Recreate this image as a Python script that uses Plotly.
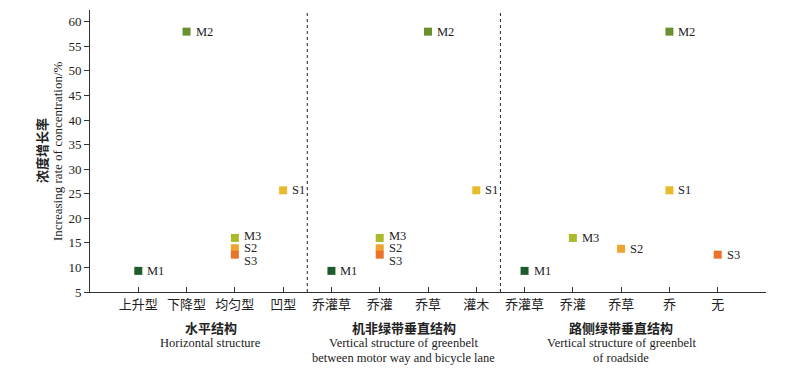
import plotly.graph_objects as go

# ---- data ----
tick_labels = ["上升型", "下降型", "均匀型", "凹型",
               "乔灌草", "乔灌", "乔草", "灌木",
               "乔灌草", "乔灌", "乔草", "乔", "无"]
tick_pos = list(range(1, 14))

series_names = ["M1", "M2", "M3", "S1", "S2", "S3"]
series_x = {
    "M1": [1, 5, 9],
    "M2": [2, 7, 12],
    "M3": [3, 6, 10],
    "S1": [4, 8, 12],
    "S2": [3, 6, 11],
    "S3": [3, 6, 13],
}
series_y = {
    "M1": [9.3, 9.3, 9.3],
    "M2": [58.0, 58.0, 58.0],
    "M3": [16.0, 16.0, 16.0],
    "S1": [25.7, 25.7, 25.7],
    "S2": [13.9, 13.9, 13.8],
    "S3": [12.6, 12.6, 12.6],
}
colors = {
    "M1": "#1d5a2c",
    "M2": "#6a8f30",
    "M3": "#abb92b",
    "S1": "#e8ba2c",
    "S2": "#eda431",
    "S3": "#e9732b",
}
# vertical offset (px) of labels (S3 label pushed down where it overlaps S2)
label_shift = {"S3": [-6, -6, 0], "M3": [2, 2, 0]}

group_titles = [
    (2.5, ["水平结构", "Horizontal structure"]),
    (6.5, ["机非绿带垂直结构", "Vertical structure of greenbelt",
           "between motor way and bicycle lane"]),
    (11, ["路侧绿带垂直结构", "Vertical structure of greenbelt", "of roadside"]),
]
dividers = [4.5, 8.5]
y_title_cn = "浓度增长率"
y_title_en = "Increasing rate of concentration/%"

FONT = "Liberation Serif, Times New Roman, Noto Sans CJK SC, serif"
FONT_CN = "Noto Sans CJK SC, Liberation Serif, serif"

fig = go.Figure()
annotations = []
for name in series_names:
    fig.add_trace(go.Scatter(
        x=series_x[name], y=series_y[name], mode="markers",
        marker=dict(symbol="square", size=8, color=colors[name]),
        name=name, showlegend=False, hoverinfo="x+y"))
    shifts = label_shift.get(name, [0, 0, 0])
    for xv, yv, s in zip(series_x[name], series_y[name], shifts):
        annotations.append(dict(
            x=xv, y=yv, xref="x", yref="y", text=name, showarrow=False,
            xanchor="left", yanchor="middle", xshift=7, yshift=s,
            font=dict(family=FONT, size=12.5, color="#222")))

for xc, lines in group_titles:
    for i, t in enumerate(lines):
        annotations.append(dict(
            x=xc, y=0, xref="x", yref="paper",
            text=("<b>%s</b>" % t) if i == 0 else t, showarrow=False,
            xanchor="center", yanchor="middle", yshift=-35 - 15.5 * i,
            font=dict(family=FONT_CN if i == 0 else FONT,
                      size=13 if i == 0 else 12.5, color="#222")))

annotations.append(dict(
    x=0, y=0.5, xref="paper", yref="paper", text="<b>%s</b>" % y_title_cn,
    showarrow=False, textangle=-90, xanchor="center", yanchor="middle",
    xshift=-49, font=dict(family=FONT_CN, size=13, color="#222")))
annotations.append(dict(
    x=0, y=0.5, xref="paper", yref="paper", text=y_title_en,
    showarrow=False, textangle=-90, xanchor="center", yanchor="middle",
    xshift=-33, font=dict(family=FONT, size=13, color="#222")))

shapes = [dict(type="line", x0=d, x1=d, xref="x", y0=0, y1=1, yref="paper",
               line=dict(color="#222", width=1, dash="dot")) for d in dividers]

# page body has an 8px margin, so the figure is sized/offset to compensate
fig.update_layout(
    width=784, height=360,
    margin=dict(l=82, r=26, t=2, b=76),
    paper_bgcolor="white", plot_bgcolor="white",
    annotations=annotations, shapes=shapes,
    font=dict(family=FONT, size=13, color="#222"),
    xaxis=dict(range=[0, 14], tickvals=tick_pos + [14], ticktext=tick_labels + [""],
               ticks="inside", ticklen=5, tickcolor="#333", showgrid=False,
               zeroline=False, showline=True, linecolor="#333", linewidth=1,
               tickfont=dict(family=FONT_CN, size=13, color="#222")),
    yaxis=dict(range=[5, 62.4], tickvals=list(range(5, 61, 5)),
               ticks="outside", ticklen=5, tickcolor="#333", showgrid=False,
               zeroline=False, showline=True, linecolor="#333", linewidth=1,
               tickfont=dict(family=FONT, size=13, color="#222")),
)

fig.write_html("out.html")
